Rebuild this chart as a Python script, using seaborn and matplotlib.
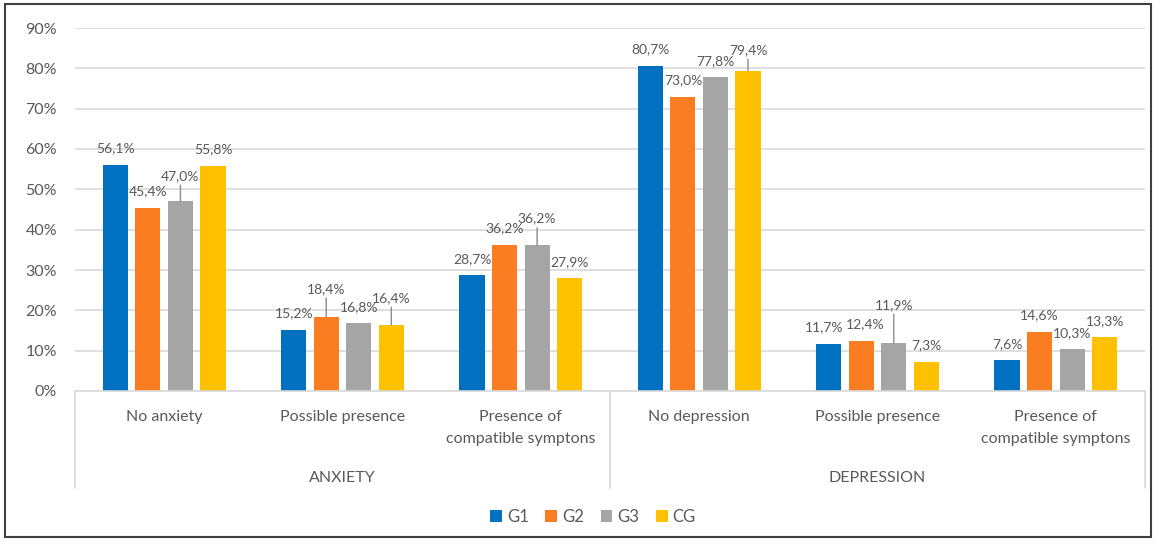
import matplotlib
matplotlib.use("Agg")
import matplotlib.pyplot as plt
from matplotlib.patches import Rectangle
from matplotlib.transforms import blended_transform_factory
import pandas as pd
import seaborn as sns

# ---- data -------------------------------------------------------------
scales = ["ANXIETY", "ANXIETY", "ANXIETY", "DEPRESSION", "DEPRESSION", "DEPRESSION"]
categories = ["No anxiety", "Possible presence", "Presence of\ncompatible symptons",
              "No depression", "Possible presence", "Presence of\ncompatible symptons"]
series = ["G1", "G2", "G3", "CG"]
g1 = [56.1, 15.2, 28.7, 80.7, 11.7, 7.6]
g2 = [45.4, 18.4, 36.2, 73.0, 12.4, 14.6]
g3 = [47.0, 16.8, 36.2, 77.8, 11.9, 10.3]
cg = [55.8, 16.4, 27.9, 79.4, 7.3, 13.3]
y_ticks = [0, 10, 20, 30, 40, 50, 60, 70, 80, 90]

# ---- style ------------------------------------------------------------
colors = ["#0070C0", "#FA7D22", "#A5A5A5", "#FFC000"]
text_grey = "#595959"
line_grey = "#D9D9D9"
label_lift = 16.5                       # default label distance above a bar (px)
raised_labels = {(0, 2): 25.5, (1, 1): 28, (1, 3): 27,
                 (2, 2): 26.5, (3, 3): 21, (4, 2): 38}   # labels pulled up with a leader
label_nudge = {(4, 0): -5, (4, 1): 4}   # sideways shifts for crowded labels (px)

sns.set_style("white")
plt.rcParams["font.family"] = ["Lato", "DejaVu Sans"]

keys = [f"{s}|{c}" for s, c in zip(scales, categories)]
values = {"G1": g1, "G2": g2, "G3": g3, "CG": cg}
df = pd.DataFrame([{"key": k, "series": s, "value": values[s][i]}
                   for s in series for i, k in enumerate(keys)])

fig = plt.figure(figsize=(11.56, 5.41), dpi=100)
ax = fig.add_axes([75 / 1156, 1 - 391 / 541, 1070 / 1156, 363 / 541])

sns.barplot(data=df, x="key", y="value", hue="series", order=keys, hue_order=series,
            palette=colors, saturation=1, width=0.73, gap=0.23, linewidth=0,
            errorbar=None, ax=ax)

ax.set_ylim(0, 90)
ax.set_xlim(-0.5, len(keys) - 0.5)
ax.set_yticks(y_ticks)
ax.set_yticklabels([f"{t}%" for t in y_ticks])
ax.set_xticks(range(len(keys)))
ax.set_xticklabels(categories, linespacing=1.75)
ax.set_xlabel("")
ax.set_ylabel("")
ax.tick_params(axis="y", length=0, pad=13, labelsize=11.5, labelcolor=text_grey)
ax.tick_params(axis="x", length=0, pad=13.5, labelsize=11.5, labelcolor=text_grey)
ax.yaxis.grid(True, color=line_grey, linewidth=1.2)
ax.set_axisbelow(True)
for side in ["left", "right", "top"]:
    ax.spines[side].set_visible(False)
ax.spines["bottom"].set_color(line_grey)
ax.spines["bottom"].set_linewidth(1.2)

# value labels
for si, cont in enumerate(ax.containers):
    for ci, bar in enumerate(cont):
        h = bar.get_height()
        xc = bar.get_x() + bar.get_width() / 2
        txt = f"{h:.1f}".replace(".", ",") + "%"
        dx = label_nudge.get((ci, si), 0)
        if (ci, si) in raised_labels:
            ax.annotate(txt, xy=(xc, h), xytext=(dx, raised_labels[(ci, si)]),
                        textcoords="offset pixels", ha="center", va="center",
                        fontsize=10, color=text_grey,
                        arrowprops=dict(arrowstyle="-", color="#8C8C8C", lw=1,
                                        shrinkA=0, shrinkB=0))
        else:
            ax.annotate(txt, xy=(xc, h), xytext=(dx, label_lift),
                        textcoords="offset pixels", ha="center", va="center",
                        fontsize=10, color=text_grey)

# second level of the category axis
trans = blended_transform_factory(ax.transData, ax.transAxes)
for x0 in [-0.5, 2.5, 5.5]:
    ax.plot([x0, x0], [0, -97 / 363], transform=trans, color=line_grey,
            linewidth=1.2, clip_on=False)
group_names = list(dict.fromkeys(scales))
for name in group_names:
    idx = [i for i, s in enumerate(scales) if s == name]
    ax.text(sum(idx) / len(idx), -87 / 363, name, transform=trans, ha="center",
            va="center", fontsize=11.5, color=text_grey)

# legend
handles, labels = ax.get_legend_handles_labels()
ax.get_legend().remove()
fig.legend(handles, labels, loc="center", bbox_to_anchor=(0.513, 1 - 517 / 541),
           ncol=4, frameon=False, fontsize=12, labelcolor=text_grey,
           handlelength=0.7, handleheight=0.7, handletextpad=0.3, columnspacing=1.0)

# outer frame
fig.patches.append(Rectangle((5 / 1156, 4 / 541), 1146 / 1156, 533 / 541,
                             transform=fig.transFigure, fill=False,
                             edgecolor="#404040", linewidth=1.5))

fig.savefig("out.png", dpi=100)
